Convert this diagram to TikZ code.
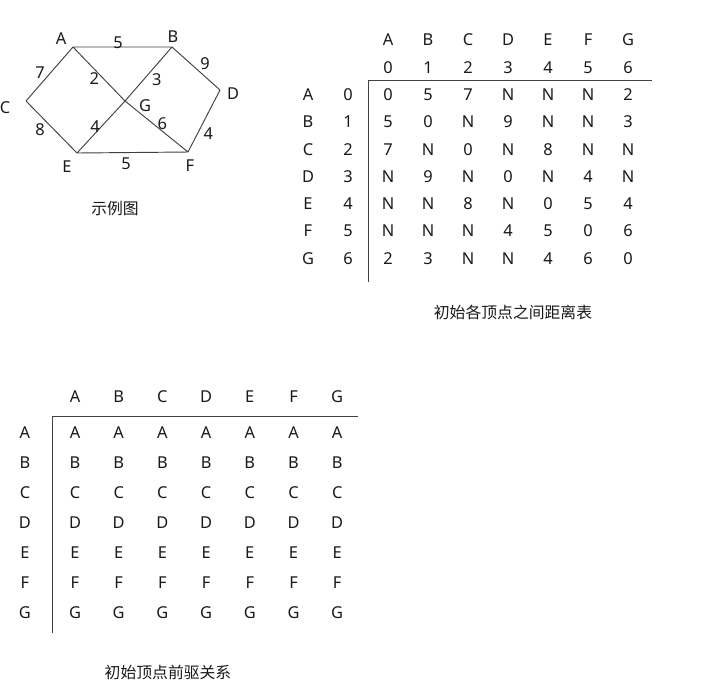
\documentclass[tikz,border=0pt]{standalone}
\usepackage{fontspec}
\setmainfont{Noto Sans}
\newfontfamily\cjk{Noto Sans CJK SC}
\usetikzlibrary{matrix}

\begin{document}
\begin{tikzpicture}[x=0.03cm,y=-0.03cm,
    every node/.style={font=\fontsize{14}{16}\selectfont,text=black!90},
    rule/.style={draw=black!75,line width=0.8pt},
    wt/.style={inner sep=0pt},
    capt/.style={font=\cjk\fontsize{13.5}{15}\selectfont}]
\useasboundingbox (0,0) rectangle (711,686);

% example graph
\coordinate (A) at (73,47);
\coordinate (B) at (172,47);
\coordinate (C) at (26,101);
\coordinate (D) at (220,90);
\coordinate (E) at (77,153);
\coordinate (F) at (188,152);
\coordinate (G) at (125,101);

\node (la) at (61,39) {A};
\node (lb) at (173,37) {B};
\node (lc) at (5,108) {C};
\node (ld) at (233,94) {D};
\node (le) at (67,167) {E};
\node (lf) at (190,166) {F};
\node (lg) at (145,106) {G};

\draw[rule]
    (A) -- node[wt,shift={(-4.5,-4)}] {5} (B)
    (A) -- node[wt,shift={(-9.5,-1)}] {7} (C)
    (A) -- node[wt,shift={(-4.7,4.3)}] {2} (G)
    (B) -- node[wt,shift={(8.2,6)}] {3} (G)
    (B) -- node[wt,shift={(9,-5.2)}] {9} (D)
    (C) -- node[wt,shift={(-11.5,3)}] {8} (E)
    (E) -- node[wt,shift={(-6,0)}] {4} (G)
    (G) -- node[wt,shift={(5.8,-2.5)}] {6} (F)
    (D) -- node[wt,shift={(4.3,12.3)}] {4} (F)
    (E) -- node[wt,shift={(-6.5,11.5)}] {5} (F);

\node[capt] (cap1) at (115,208) {示例图};

% distance table
\matrix (dist) [matrix of nodes,
    column sep={1.2cm,between origins},row sep={0.819cm,between origins},
    matrix anchor=dist-1-3.center] at (388,40) {
      &   & A & B & C & D & E & F & G \\
      &   & 0 & 1 & 2 & 3 & 4 & 5 & 6 \\
    A & 0 & 0 & 5 & 7 & N & N & N & 2 \\
    B & 1 & 5 & 0 & N & 9 & N & N & 3 \\
    C & 2 & 7 & N & 0 & N & 8 & N & N \\
    D & 3 & N & 9 & N & 0 & N & 4 & N \\
    E & 4 & N & N & 8 & N & 0 & 5 & 4 \\
    F & 5 & N & N & N & 4 & 5 & 0 & 6 \\
    G & 6 & 2 & 3 & N & N & 4 & 6 & 0 \\
};
\coordinate (dtl) at (368,80);
\draw[rule] (dtl) -- ++(284,0);
\draw[rule] (dtl) -- ++(0,202);

\node[capt] (cap2) at (513,312) {初始各顶点之间距离表};

% predecessor table
\matrix (pre) [matrix of nodes,
    column sep={1.311cm,between origins},row sep={0.897cm,between origins},
    matrix anchor=pre-1-2.center] at (75,397) {
      &[0.19cm] A & B & C & D & E & F & G \\[0.18cm]
    A &[0.19cm] A & A & A & A & A & A & A \\
    B &[0.19cm] B & B & B & B & B & B & B \\
    C &[0.19cm] C & C & C & C & C & C & C \\
    D &[0.19cm] D & D & D & D & D & D & D \\
    E &[0.19cm] E & E & E & E & E & E & E \\
    F &[0.19cm] F & F & F & F & F & F & F \\
    G &[0.19cm] G & G & G & G & G & G & G \\
};
\coordinate (ptl) at (52,416);
\draw[rule] (ptl) -- ++(306,0);
\draw[rule] (ptl) -- ++(0,217);

\node[capt] (cap3) at (168,672) {初始顶点前驱关系};
\end{tikzpicture}
\end{document}
